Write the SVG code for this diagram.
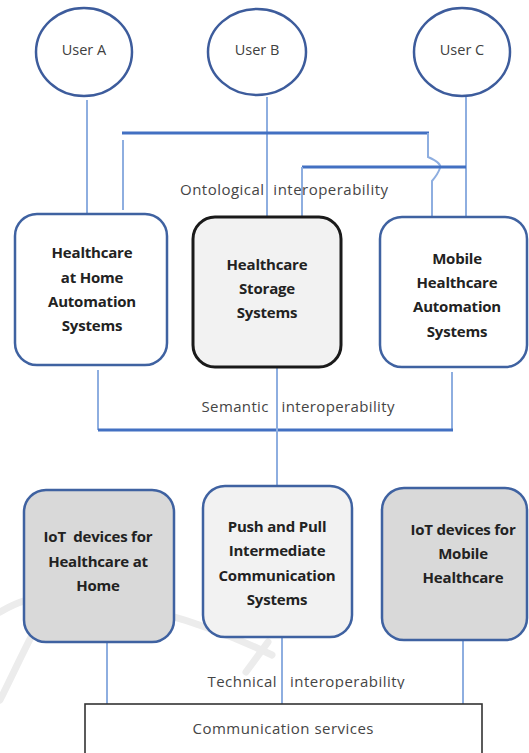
<svg xmlns="http://www.w3.org/2000/svg" width="529" height="753" viewBox="0 0 529 753">
  <defs>
    <style>
      .user { fill: #ffffff; stroke: #3d5c9c; stroke-width: 2.5; }
      .box { stroke: #3f62a1; stroke-width: 2.5; }
      .box-dark { stroke: #1a1a1a; stroke-width: 3; }
      .white { fill: #ffffff; }
      .light { fill: #f2f2f2; }
      .grey { fill: #d9d9d9; }
      .thin { fill: none; stroke: #8eaee0; stroke-width: 2; }
      .thick { fill: none; stroke: #4270c2; stroke-width: 3; }
      .lbl { font-family: "Open Sans", "Liberation Sans", sans-serif; font-size: 15px; fill: #454545; text-anchor: middle; }
      .usr { font-family: "Open Sans", "Liberation Sans", sans-serif; font-size: 14.5px; fill: #404040; text-anchor: middle; }
      .ttl { font-family: "Open Sans", "Liberation Sans", sans-serif; font-size: 15px; font-weight: bold; fill: #222222; text-anchor: middle; letter-spacing: -0.2px; }
      .mark { fill: none; stroke: #ececec; stroke-width: 7; stroke-linecap: round; }
    </style>
    <clipPath id="clip-tech">
      <rect x="150" y="660" width="300" height="29"/>
    </clipPath>
  </defs>

  <rect x="0" y="0" width="529" height="753" fill="#ffffff"/>

  <!-- faint background swoosh -->
  <g id="watermark">
    <path class="mark" d="M0,612 C20,600 40,596 55,596 C120,598 200,620 272,655"/>
    <path class="mark" d="M0,700 C20,660 35,625 55,596"/>
    <path class="mark" d="M246,672 L268,642"/>
  </g>

  <!-- connectors -->
  <g id="connectors">
    <!-- users to application systems -->
    <line class="thin" x1="87" y1="100" x2="87" y2="214"/>
    <line class="thin" x1="267" y1="97" x2="267" y2="217"/>
    <line class="thin" x1="466" y1="97" x2="466" y2="217"/>
    <!-- ontological interoperability links -->
    <line class="thin" x1="123" y1="140" x2="123" y2="210"/>
    <line class="thick" x1="122" y1="133" x2="429" y2="133"/>
    <path class="thin" d="M428,133 V157 Q442,163 440,168 Q438,174 432,181 V217"/>
    <line class="thick" x1="302" y1="167" x2="466" y2="167"/>
    <line class="thin" x1="302" y1="167" x2="302" y2="217"/>
    <!-- semantic interoperability links -->
    <line class="thin" x1="98" y1="370" x2="98" y2="430"/>
    <line class="thin" x1="452" y1="372" x2="452" y2="430"/>
    <line class="thick" x1="98" y1="430" x2="453" y2="430"/>
    <line class="thin" x1="277" y1="367" x2="277" y2="486"/>
    <!-- technical interoperability links -->
    <line class="thin" x1="107" y1="642" x2="107" y2="704"/>
    <line class="thin" x1="282" y1="637" x2="282" y2="704"/>
    <line class="thin" x1="463" y1="640" x2="463" y2="704"/>
  </g>

  <!-- users -->
  <g id="user-a">
    <ellipse class="user" cx="84" cy="52" rx="48" ry="44"/>
    <text class="usr" x="84" y="55">User A</text>
  </g>
  <g id="user-b">
    <ellipse class="user" cx="257" cy="52" rx="49" ry="43"/>
    <text class="usr" x="257" y="55">User B</text>
  </g>
  <g id="user-c">
    <ellipse class="user" cx="462" cy="52" rx="48" ry="44"/>
    <text class="usr" x="462" y="55">User C</text>
  </g>

  <!-- interoperability labels -->
  <g id="label-ontological">
    <text class="lbl" x="284" y="195" xml:space="preserve" textLength="208" lengthAdjust="spacing">Ontological  interoperability</text>
  </g>
  <g id="label-semantic">
    <text class="lbl" x="298" y="412" xml:space="preserve" textLength="193" lengthAdjust="spacing">Semantic   interoperability</text>
  </g>
  <g id="label-technical">
    <text class="lbl" x="306" y="687" xml:space="preserve" textLength="197" lengthAdjust="spacing" clip-path="url(#clip-tech)">Technical   interoperability</text>
  </g>

  <!-- application systems -->
  <g id="home-automation">
    <rect class="box white" x="15" y="214" width="152" height="151" rx="22"/>
    <text class="ttl" x="92" y="258">Healthcare</text>
    <text class="ttl" x="92" y="283">at Home</text>
    <text class="ttl" x="92" y="307">Automation</text>
    <text class="ttl" x="92" y="331">Systems</text>
  </g>
  <g id="storage">
    <rect class="box-dark light" x="193" y="217" width="148" height="150" rx="22"/>
    <text class="ttl" x="267" y="270">Healthcare</text>
    <text class="ttl" x="267" y="294">Storage</text>
    <text class="ttl" x="267" y="318">Systems</text>
  </g>
  <g id="mobile-automation">
    <rect class="box white" x="380" y="217" width="147" height="150" rx="22"/>
    <text class="ttl" x="457" y="264">Mobile</text>
    <text class="ttl" x="457" y="288">Healthcare</text>
    <text class="ttl" x="457" y="312">Automation</text>
    <text class="ttl" x="457" y="337">Systems</text>
  </g>

  <!-- devices and intermediate layer -->
  <g id="iot-home">
    <rect class="box grey" x="24" y="490" width="150" height="152" rx="22"/>
    <text class="ttl" x="98" y="542" xml:space="preserve">IoT  devices for</text>
    <text class="ttl" x="98" y="567">Healthcare at</text>
    <text class="ttl" x="98" y="591">Home</text>
  </g>
  <g id="push-pull">
    <rect class="box light" x="203" y="486" width="149" height="151" rx="22"/>
    <text class="ttl" x="277" y="532">Push and Pull</text>
    <text class="ttl" x="277" y="556">Intermediate</text>
    <text class="ttl" x="277" y="581">Communication</text>
    <text class="ttl" x="277" y="605">Systems</text>
  </g>
  <g id="iot-mobile">
    <rect class="box grey" x="382" y="488" width="145" height="152" rx="22"/>
    <text class="ttl" x="463" y="535">IoT devices for</text>
    <text class="ttl" x="463" y="559">Mobile</text>
    <text class="ttl" x="463" y="583">Healthcare</text>
  </g>

  <!-- communication services -->
  <g id="communication-services">
    <rect x="85" y="704" width="397" height="60" fill="none" stroke="#333333" stroke-width="1.6"/>
    <text class="lbl" x="283" y="734" textLength="181" lengthAdjust="spacing">Communication services</text>
  </g>
</svg>
